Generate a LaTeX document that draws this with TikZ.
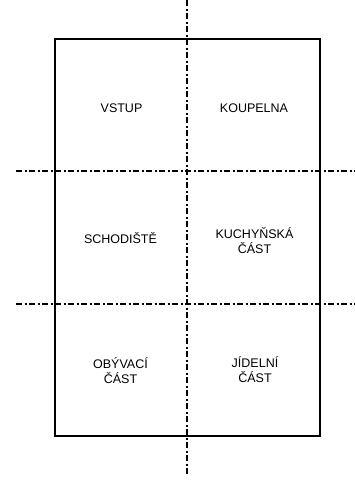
\documentclass[tikz,border=0pt]{standalone}
\usepackage{fontspec}
\setmainfont{Liberation Sans}
\begin{document}
\begin{tikzpicture}[x=1pt,y=-1pt,
  wall/.style={draw=black,line width=2.5pt},
  axisline/.style={draw=black,line width=2.3pt,dash pattern=on 6pt off 2.5pt on 2pt off 2.5pt},
  lbl/.style={font=\fontsize{12.5}{15}\selectfont,align=center,inner sep=0pt}]
\useasboundingbox (0,0) rectangle (355,485);
\coordinate (vt) at (187,0);
\coordinate (vb) at (187,476);
\coordinate (h1l) at (16,171);
\coordinate (h1r) at (355,171);
\coordinate (h2l) at (16,304);
\coordinate (h2r) at (355,304);
\coordinate (rtl) at (55,39);
\coordinate (rbr) at (320,436);
\draw[wall] (rtl) rectangle (rbr);
\draw[axisline] (vt) -- (vb);
\draw[axisline] (h1l) -- (h1r);
\draw[axisline] (h2l) -- (h2r);
\node[lbl] (vstup) at (121.5,108) {VSTUP};
\node[lbl] (koupelna) at (254,108) {KOUPELNA};
\node[lbl] (schod) at (120.5,238) {SCHODIŠTĚ};
\node[lbl] (kuch) at (254.5,240.5) {KUCHYŇSKÁ\\ČÁST};
\node[lbl] (obyv) at (120.5,370.5) {OBÝVACÍ\\ČÁST};
\node[lbl] (jid) at (255,369.5) {JÍDELNÍ\\ČÁST};
\end{tikzpicture}
\end{document}
